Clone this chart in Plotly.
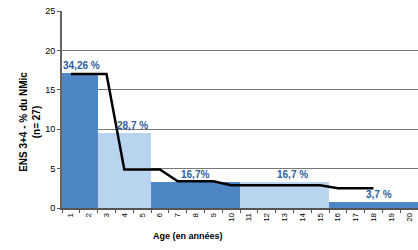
import plotly.graph_objects as go

# Age groups (years) and per-year average values
group_start = [1, 3, 6, 11, 16]
group_end = [2, 5, 10, 15, 20]
group_values = [17.13, 9.57, 3.34, 3.34, 0.74]
group_labels = ["34,26 %", "28,7 %", "16,7%", "16,7 %", "3,7 %"]
group_colors = ["#4F87C6", "#B9D4EF", "#4F87C6", "#B9D4EF", "#4F87C6"]

# Black line (per age)
line_ages = list(range(1, 19))
line_values = [17.0, 17.0, 17.0, 4.9, 4.9, 4.9, 3.4, 3.4, 3.4, 2.9, 2.9, 2.9, 2.9, 2.9, 2.9, 2.5, 2.5, 2.5]

ages = list(range(1, 21))

centers = [(s + e) / 2 for s, e in zip(group_start, group_end)]
widths = [e - s + 1 for s, e in zip(group_start, group_end)]
label_xshift = [2, 8, -1, 8, 5]

fig = go.Figure()
fig.add_trace(go.Bar(
    x=centers, y=group_values, width=widths,
    marker=dict(color=group_colors, line=dict(width=0)),
    showlegend=False, hoverinfo="skip",
))
fig.add_trace(go.Scatter(
    x=line_ages, y=line_values, mode="lines",
    line=dict(color="black", width=2.5),
    showlegend=False, hoverinfo="skip",
))

annotations = [
    dict(text="<b>" + lab + "</b>", x=cx, y=v, xref="x", yref="y",
         xanchor="center", yanchor="bottom", xshift=dx, yshift=0,
         showarrow=False, font=dict(size=10, color="#2B5E9E"))
    for lab, cx, v, dx in zip(group_labels, centers, group_values, label_xshift)
]
annotations += [
    dict(text="<b>Age (en années)</b>", xref="paper", yref="paper",
         x=0.354, y=-0.142, xanchor="center", yanchor="middle",
         showarrow=False, font=dict(size=9)),
    dict(text="<b>ENS 3+4 - % du NMic<br>(n= 27)</b>", xref="paper", yref="paper",
         x=-0.09, y=0.437, xanchor="center", yanchor="middle", textangle=-90,
         showarrow=False, font=dict(size=10)),
]

fig.update_layout(
    width=418, height=250,
    margin=dict(l=62, r=0, t=11, b=42, autoexpand=False),
    paper_bgcolor="white", plot_bgcolor="white",
    font=dict(family="Liberation Sans", size=9, color="black"),
    bargap=0,
    annotations=annotations,
)
fig.update_xaxes(
    range=[0.5, 20.5], automargin=False,
    tickmode="array", tickvals=ages, ticktext=[str(a) for a in ages],
    tickangle=-90, ticks="",
    tickfont=dict(size=8),
    minor=dict(tickmode="linear", tick0=0.5, dtick=1, ticks="outside", ticklen=3, tickcolor="#555"),
    showline=True, linecolor="#555", linewidth=1.5,
    showgrid=False, zeroline=False,
)
fig.update_yaxes(
    range=[0, 25], dtick=5, ticks="outside", ticklen=3, tickcolor="#555",
    tickfont=dict(size=9), automargin=False,
    showline=True, linecolor="#666", linewidth=2,
    showgrid=True, gridcolor="#777", gridwidth=1,
    zeroline=False,
)

fig.write_html("out.html", config={"displayModeBar": False},
               post_script="document.body.style.margin='0';document.body.style.padding='0';")
